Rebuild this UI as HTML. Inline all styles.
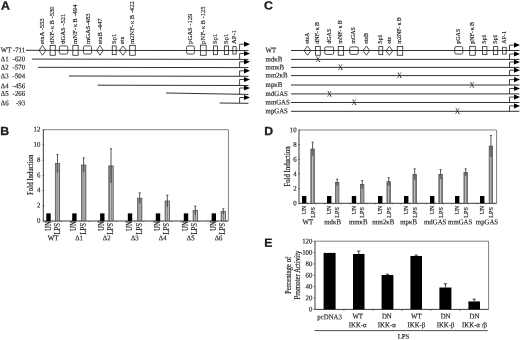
<!DOCTYPE html>
<html><head><meta charset="utf-8"><title>Figure</title>
<style>
html,body{margin:0;padding:0;background:#fff;}
body{width:520px;height:340px;overflow:hidden;font-family:"Liberation Serif",serif;}
svg{display:block;filter:blur(0.35px);}
</style></head><body>
<svg width="520" height="340" viewBox="0 0 520 340">
<defs>
<pattern id="dots" x="0.2" y="0" width="1.85" height="2" patternUnits="userSpaceOnUse">
<rect width="1.85" height="2" fill="#767676"/><rect x="0.8" y="0.45" width="1.1" height="1.1" fill="#fff"/>
</pattern>
</defs>
<rect width="520" height="340" fill="#fff"/>
<text transform="translate(1.0 9.5) rotate(0.05) scale(1.04 1)" font-size="11.8" text-anchor="start" font-family="Liberation Sans, serif" font-weight="bold" fill="#1a1a1a" stroke="#1a1a1a" stroke-width="0.3">A</text>
<text transform="translate(0.2 135.0) rotate(0.05) scale(1.04 1)" font-size="11.8" text-anchor="start" font-family="Liberation Sans, serif" font-weight="bold" fill="#1a1a1a" stroke="#1a1a1a" stroke-width="0.3">B</text>
<text transform="translate(264 9.5) rotate(0.05) scale(1.04 1)" font-size="11.8" text-anchor="start" font-family="Liberation Sans, serif" font-weight="bold" fill="#1a1a1a" stroke="#1a1a1a" stroke-width="0.3">C</text>
<text transform="translate(264.3 135.0) rotate(0.05) scale(1.04 1)" font-size="11.8" text-anchor="start" font-family="Liberation Sans, serif" font-weight="bold" fill="#1a1a1a" stroke="#1a1a1a" stroke-width="0.3">D</text>
<text transform="translate(264.3 246.8) rotate(0.05) scale(1.04 1)" font-size="11.8" text-anchor="start" font-family="Liberation Sans, serif" font-weight="bold" fill="#1a1a1a" stroke="#1a1a1a" stroke-width="0.3">E</text>
<text transform="translate(0.8 52.2) rotate(0.05) scale(0.945 1)" font-size="7.196" text-anchor="start" font-family="Liberation Serif, serif" fill="#1a1a1a" stroke="#1a1a1a" stroke-width="0.16">WT</text>
<text transform="translate(25.1 52.2) rotate(0.05) scale(0.945 1)" font-size="7.196" text-anchor="end" font-family="Liberation Serif, serif" fill="#1a1a1a" stroke="#1a1a1a" stroke-width="0.16">-711</text>
<line x1="26" y1="50.3" x2="248.4" y2="50.6" stroke="#1a1a1a" stroke-width="0.9"/>
<text transform="translate(0.8 61.2) rotate(0.05) scale(0.945 1)" font-size="7.196" text-anchor="start" font-family="Liberation Serif, serif" fill="#1a1a1a" stroke="#1a1a1a" stroke-width="0.16">Δ1</text>
<text transform="translate(25.1 61.2) rotate(0.05) scale(0.945 1)" font-size="7.196" text-anchor="end" font-family="Liberation Serif, serif" fill="#1a1a1a" stroke="#1a1a1a" stroke-width="0.16">-620</text>
<line x1="32" y1="59.1" x2="248.4" y2="59.4" stroke="#1a1a1a" stroke-width="0.9"/>
<text transform="translate(0.8 69.60000000000001) rotate(0.05) scale(0.945 1)" font-size="7.196" text-anchor="start" font-family="Liberation Serif, serif" fill="#1a1a1a" stroke="#1a1a1a" stroke-width="0.16">Δ2</text>
<text transform="translate(25.1 69.60000000000001) rotate(0.05) scale(0.945 1)" font-size="7.196" text-anchor="end" font-family="Liberation Serif, serif" fill="#1a1a1a" stroke="#1a1a1a" stroke-width="0.16">-570</text>
<line x1="38" y1="67.3" x2="248.4" y2="67.6" stroke="#1a1a1a" stroke-width="0.9"/>
<text transform="translate(0.8 78.2) rotate(0.05) scale(0.945 1)" font-size="7.196" text-anchor="start" font-family="Liberation Serif, serif" fill="#1a1a1a" stroke="#1a1a1a" stroke-width="0.16">Δ3</text>
<text transform="translate(25.1 78.2) rotate(0.05) scale(0.945 1)" font-size="7.196" text-anchor="end" font-family="Liberation Serif, serif" fill="#1a1a1a" stroke="#1a1a1a" stroke-width="0.16">-504</text>
<line x1="69" y1="76.0" x2="248.4" y2="76.3" stroke="#1a1a1a" stroke-width="0.9"/>
<text transform="translate(0.8 88.2) rotate(0.05) scale(0.945 1)" font-size="7.196" text-anchor="start" font-family="Liberation Serif, serif" fill="#1a1a1a" stroke="#1a1a1a" stroke-width="0.16">Δ4</text>
<text transform="translate(25.1 88.2) rotate(0.05) scale(0.945 1)" font-size="7.196" text-anchor="end" font-family="Liberation Serif, serif" fill="#1a1a1a" stroke="#1a1a1a" stroke-width="0.16">-456</text>
<line x1="97.6" y1="85.2" x2="248.4" y2="85.5" stroke="#1a1a1a" stroke-width="0.9"/>
<text transform="translate(0.8 95.8) rotate(0.05) scale(0.945 1)" font-size="7.196" text-anchor="start" font-family="Liberation Serif, serif" fill="#1a1a1a" stroke="#1a1a1a" stroke-width="0.16">Δ5</text>
<text transform="translate(25.1 95.8) rotate(0.05) scale(0.945 1)" font-size="7.196" text-anchor="end" font-family="Liberation Serif, serif" fill="#1a1a1a" stroke="#1a1a1a" stroke-width="0.16">-266</text>
<line x1="166" y1="93.0" x2="248.4" y2="94.4" stroke="#1a1a1a" stroke-width="0.9"/>
<text transform="translate(0.8 105.2) rotate(0.05) scale(0.945 1)" font-size="7.196" text-anchor="start" font-family="Liberation Serif, serif" fill="#1a1a1a" stroke="#1a1a1a" stroke-width="0.16">Δ6</text>
<text transform="translate(25.1 105.2) rotate(0.05) scale(0.945 1)" font-size="7.196" text-anchor="end" font-family="Liberation Serif, serif" fill="#1a1a1a" stroke="#1a1a1a" stroke-width="0.16">-93</text>
<line x1="219.6" y1="103.0" x2="248.4" y2="103.3" stroke="#1a1a1a" stroke-width="0.9"/>
<polyline points="239.6,50.3 239.6,44.2 245,44.2" fill="none" stroke="#1a1a1a" stroke-width="0.8"/>
<polygon points="244,41.6 250,44.2 244,46.800000000000004" fill="#000"/>
<polyline points="239.6,59.1 239.6,53.5 245,53.5" fill="none" stroke="#1a1a1a" stroke-width="0.8"/>
<polygon points="244,50.9 250,53.5 244,56.1" fill="#000"/>
<polyline points="239.6,67.3 239.6,61.8 245,61.8" fill="none" stroke="#1a1a1a" stroke-width="0.8"/>
<polygon points="244,59.199999999999996 250,61.8 244,64.39999999999999" fill="#000"/>
<polyline points="239.6,76.0 239.6,70.8 245,70.8" fill="none" stroke="#1a1a1a" stroke-width="0.8"/>
<polygon points="244,68.2 250,70.8 244,73.39999999999999" fill="#000"/>
<polyline points="239.6,85.2 239.6,79.5 245,79.5" fill="none" stroke="#1a1a1a" stroke-width="0.8"/>
<polygon points="244,76.9 250,79.5 244,82.1" fill="#000"/>
<polyline points="239.6,94.4 239.6,88 245,88" fill="none" stroke="#1a1a1a" stroke-width="0.8"/>
<polygon points="244,85.4 250,88 244,90.6" fill="#000"/>
<polyline points="239.6,103.0 239.6,97.5 245,97.5" fill="none" stroke="#1a1a1a" stroke-width="0.8"/>
<polygon points="244,94.9 250,97.5 244,100.1" fill="#000"/>
<polygon points="39.1,50.3 42.5,45.35 45.9,50.3 42.5,55.25" fill="none" stroke="#262626" stroke-width="0.8"/>
<rect x="50.1" y="45.35" width="5.15" height="9.9" rx="0" fill="none" stroke="#262626" stroke-width="0.8"/>
<rect x="59.35" y="45.95" width="8.4" height="8.1" rx="1.3" fill="none" stroke="#262626" stroke-width="0.8"/>
<rect x="72.85" y="45.35" width="5.3" height="9.9" rx="0" fill="none" stroke="#262626" stroke-width="0.8"/>
<rect x="83.45" y="45.95" width="8.1" height="8.1" rx="1.3" fill="none" stroke="#262626" stroke-width="0.8"/>
<polygon points="96.6,50.3 99.875,45.35 103.15,50.3 99.875,55.25" fill="none" stroke="#262626" stroke-width="0.8"/>
<rect x="112.25" y="45.95" width="3.9" height="8.7" rx="0" fill="none" stroke="#262626" stroke-width="0.8"/>
<polygon points="119.35,50.6 122.95,45.95 126.55000000000001,50.6 122.95,55.25" fill="none" stroke="#262626" stroke-width="0.8"/>
<rect x="129.75" y="45.35" width="5.5" height="9.9" rx="0" fill="none" stroke="#262626" stroke-width="0.8"/>
<rect x="186.6" y="45.95" width="7.8" height="8.1" rx="1.3" fill="none" stroke="#262626" stroke-width="0.8"/>
<rect x="200.35" y="45.1" width="5.8" height="10.15" rx="0" fill="none" stroke="#262626" stroke-width="0.8"/>
<rect x="213.45" y="45.95" width="3.95" height="8.7" rx="0" fill="none" stroke="#262626" stroke-width="0.8"/>
<rect x="224.35" y="45.95" width="4.05" height="8.7" rx="0" fill="none" stroke="#262626" stroke-width="0.8"/>
<rect x="232.85" y="46.6" width="3.3" height="7.45" rx="0" fill="none" stroke="#262626" stroke-width="0.8"/>
<text transform="translate(44.48 43.9) rotate(-90) scale(0.945 1)" font-size="6.984" text-anchor="start" font-family="Liberation Serif, serif" fill="#1a1a1a" stroke="#1a1a1a" stroke-width="0.16">etsA -553</text>
<text transform="translate(54.48 43.9) rotate(-90) scale(0.945 1)" font-size="6.984" text-anchor="start" font-family="Liberation Serif, serif" fill="#1a1a1a" stroke="#1a1a1a" stroke-width="0.16">dNF-<tspan dx="0.9">κ</tspan><tspan dx="1.4">B</tspan> -530</text>
<text transform="translate(65.18 43.9) rotate(-90) scale(0.945 1)" font-size="6.984" text-anchor="start" font-family="Liberation Serif, serif" fill="#1a1a1a" stroke="#1a1a1a" stroke-width="0.16">dGAS -521</text>
<text transform="translate(77.18 43.9) rotate(-90) scale(0.945 1)" font-size="6.984" text-anchor="start" font-family="Liberation Serif, serif" fill="#1a1a1a" stroke="#1a1a1a" stroke-width="0.16">mNF-<tspan dx="0.9">κ</tspan><tspan dx="1.4">B</tspan> -494</text>
<text transform="translate(89.98 43.9) rotate(-90) scale(0.945 1)" font-size="6.984" text-anchor="start" font-family="Liberation Serif, serif" fill="#1a1a1a" stroke="#1a1a1a" stroke-width="0.16">mGAS-483</text>
<text transform="translate(101.58 43.9) rotate(-90) scale(0.945 1)" font-size="6.984" text-anchor="start" font-family="Liberation Serif, serif" fill="#1a1a1a" stroke="#1a1a1a" stroke-width="0.16">etsB -447</text>
<text transform="translate(115.68 43.9) rotate(-90) scale(0.945 1)" font-size="6.984" text-anchor="start" font-family="Liberation Serif, serif" fill="#1a1a1a" stroke="#1a1a1a" stroke-width="0.16">Sp1</text>
<text transform="translate(124.38 43.9) rotate(-90) scale(0.945 1)" font-size="6.984" text-anchor="start" font-family="Liberation Serif, serif" fill="#1a1a1a" stroke="#1a1a1a" stroke-width="0.16">ets</text>
<text transform="translate(133.98 43.9) rotate(-90) scale(0.945 1)" font-size="6.984" text-anchor="start" font-family="Liberation Serif, serif" fill="#1a1a1a" stroke="#1a1a1a" stroke-width="0.16">m2NF-<tspan dx="0.9">κ</tspan><tspan dx="1.4">B</tspan> -422</text>
<text transform="translate(192.08 43.9) rotate(-90) scale(0.945 1)" font-size="6.984" text-anchor="start" font-family="Liberation Serif, serif" fill="#1a1a1a" stroke="#1a1a1a" stroke-width="0.16">pGAS -129</text>
<text transform="translate(204.78 43.9) rotate(-90) scale(0.945 1)" font-size="6.984" text-anchor="start" font-family="Liberation Serif, serif" fill="#1a1a1a" stroke="#1a1a1a" stroke-width="0.16">pNF-<tspan dx="0.9">κ</tspan><tspan dx="1.4">B</tspan> -125</text>
<text transform="translate(217.08 43.9) rotate(-90) scale(0.945 1)" font-size="6.984" text-anchor="start" font-family="Liberation Serif, serif" fill="#1a1a1a" stroke="#1a1a1a" stroke-width="0.16">Sp1</text>
<text transform="translate(227.88 43.9) rotate(-90) scale(0.945 1)" font-size="6.984" text-anchor="start" font-family="Liberation Serif, serif" fill="#1a1a1a" stroke="#1a1a1a" stroke-width="0.16">Sp1</text>
<text transform="translate(236.18 43.9) rotate(-90) scale(0.945 1)" font-size="6.984" text-anchor="start" font-family="Liberation Serif, serif" fill="#1a1a1a" stroke="#1a1a1a" stroke-width="0.16">AP-1</text>
<text transform="translate(265.6 52.5) rotate(0.05) scale(0.945 1)" font-size="7.196" text-anchor="start" font-family="Liberation Serif, serif" fill="#1a1a1a" stroke="#1a1a1a" stroke-width="0.16">WT</text>
<line x1="291" y1="50.5" x2="519.4" y2="50.5" stroke="#1a1a1a" stroke-width="0.9"/>
<polyline points="509.5,50.5 509.5,45.1 515,45.1" fill="none" stroke="#1a1a1a" stroke-width="0.8"/>
<polygon points="514,42.5 520,45.1 514,47.7" fill="#000"/>
<text transform="translate(265.6 61.4) rotate(0.05) scale(0.945 1)" font-size="7.196" text-anchor="start" font-family="Liberation Serif, serif" fill="#1a1a1a" stroke="#1a1a1a" stroke-width="0.16">mdκB</text>
<line x1="291" y1="59.4" x2="519.4" y2="59.4" stroke="#1a1a1a" stroke-width="0.9"/>
<polyline points="509.5,59.4 509.5,54.0 515,54.0" fill="none" stroke="#1a1a1a" stroke-width="0.8"/>
<polygon points="514,51.4 520,54.0 514,56.6" fill="#000"/>
<text transform="translate(265.6 69.4) rotate(0.05) scale(0.945 1)" font-size="7.196" text-anchor="start" font-family="Liberation Serif, serif" fill="#1a1a1a" stroke="#1a1a1a" stroke-width="0.16">mmκB</text>
<line x1="291" y1="67.4" x2="519.4" y2="67.4" stroke="#1a1a1a" stroke-width="0.9"/>
<polyline points="509.5,67.4 509.5,62.0 515,62.0" fill="none" stroke="#1a1a1a" stroke-width="0.8"/>
<polygon points="514,59.4 520,62.0 514,64.6" fill="#000"/>
<text transform="translate(265.6 77.6) rotate(0.05) scale(0.945 1)" font-size="7.196" text-anchor="start" font-family="Liberation Serif, serif" fill="#1a1a1a" stroke="#1a1a1a" stroke-width="0.16">mm2κB</text>
<line x1="291" y1="75.6" x2="519.4" y2="75.6" stroke="#1a1a1a" stroke-width="0.9"/>
<polyline points="509.5,75.6 509.5,70.2 515,70.2" fill="none" stroke="#1a1a1a" stroke-width="0.8"/>
<polygon points="514,67.60000000000001 520,70.2 514,72.8" fill="#000"/>
<text transform="translate(265.6 87.0) rotate(0.05) scale(0.945 1)" font-size="7.196" text-anchor="start" font-family="Liberation Serif, serif" fill="#1a1a1a" stroke="#1a1a1a" stroke-width="0.16">mpκB</text>
<line x1="291" y1="85.0" x2="519.4" y2="85.0" stroke="#1a1a1a" stroke-width="0.9"/>
<polyline points="509.5,85.0 509.5,79.6 515,79.6" fill="none" stroke="#1a1a1a" stroke-width="0.8"/>
<polygon points="514,77.0 520,79.6 514,82.19999999999999" fill="#000"/>
<text transform="translate(265.6 95.9) rotate(0.05) scale(0.945 1)" font-size="7.196" text-anchor="start" font-family="Liberation Serif, serif" fill="#1a1a1a" stroke="#1a1a1a" stroke-width="0.16">mdGAS</text>
<line x1="291" y1="93.9" x2="519.4" y2="93.9" stroke="#1a1a1a" stroke-width="0.9"/>
<polyline points="509.5,93.9 509.5,88.5 515,88.5" fill="none" stroke="#1a1a1a" stroke-width="0.8"/>
<polygon points="514,85.9 520,88.5 514,91.1" fill="#000"/>
<text transform="translate(265.6 104.5) rotate(0.05) scale(0.945 1)" font-size="7.196" text-anchor="start" font-family="Liberation Serif, serif" fill="#1a1a1a" stroke="#1a1a1a" stroke-width="0.16">mmGAS</text>
<line x1="291" y1="102.5" x2="519.4" y2="102.5" stroke="#1a1a1a" stroke-width="0.9"/>
<polyline points="509.5,102.5 509.5,97.1 515,97.1" fill="none" stroke="#1a1a1a" stroke-width="0.8"/>
<polygon points="514,94.5 520,97.1 514,99.69999999999999" fill="#000"/>
<text transform="translate(265.6 113.3) rotate(0.05) scale(0.945 1)" font-size="7.196" text-anchor="start" font-family="Liberation Serif, serif" fill="#1a1a1a" stroke="#1a1a1a" stroke-width="0.16">mpGAS</text>
<line x1="291" y1="111.3" x2="519.4" y2="111.3" stroke="#1a1a1a" stroke-width="0.9"/>
<polyline points="509.5,111.3 509.5,105.9 515,105.9" fill="none" stroke="#1a1a1a" stroke-width="0.8"/>
<polygon points="514,103.30000000000001 520,105.9 514,108.5" fill="#000"/>
<polygon points="304.1,50.6 307.5,45.95 310.9,50.6 307.5,55.25" fill="none" stroke="#262626" stroke-width="0.8"/>
<rect x="315.6" y="46.35" width="4.65" height="8.9" rx="0" fill="none" stroke="#262626" stroke-width="0.8"/>
<rect x="324.75" y="46.85" width="8.9" height="7.55" rx="1.3" fill="none" stroke="#262626" stroke-width="0.8"/>
<rect x="338.25" y="46.35" width="5.4" height="8.9" rx="0" fill="none" stroke="#262626" stroke-width="0.8"/>
<rect x="349.75" y="46.85" width="8.5" height="7.55" rx="1.3" fill="none" stroke="#262626" stroke-width="0.8"/>
<polygon points="363.1,50.6 366.375,45.95 369.65,50.6 366.375,55.25" fill="none" stroke="#262626" stroke-width="0.8"/>
<rect x="378.85" y="46.6" width="3.9" height="8.05" rx="0" fill="none" stroke="#262626" stroke-width="0.8"/>
<polygon points="385.95000000000005,50.8 389.35,46.35 392.75,50.8 389.35,55.25" fill="none" stroke="#262626" stroke-width="0.8"/>
<rect x="397.25" y="46.35" width="5.5" height="8.9" rx="0" fill="none" stroke="#262626" stroke-width="0.8"/>
<rect x="454.75" y="46.6" width="8.0" height="7.45" rx="1.3" fill="none" stroke="#262626" stroke-width="0.8"/>
<rect x="469.75" y="46.35" width="5.5" height="8.9" rx="0" fill="none" stroke="#262626" stroke-width="0.8"/>
<rect x="482.6" y="46.6" width="4.3" height="8.05" rx="0" fill="none" stroke="#262626" stroke-width="0.8"/>
<rect x="493.45" y="46.6" width="4.3" height="8.05" rx="0" fill="none" stroke="#262626" stroke-width="0.8"/>
<rect x="502.6" y="47.25" width="3.55" height="6.8" rx="0" fill="none" stroke="#262626" stroke-width="0.8"/>
<text transform="translate(309.3 43.7) rotate(-90) scale(0.945 1)" font-size="6.349" text-anchor="start" font-family="Liberation Serif, serif" fill="#1a1a1a" stroke="#1a1a1a" stroke-width="0.16">etsA</text>
<text transform="translate(319.4 43.7) rotate(-90) scale(0.945 1)" font-size="6.349" text-anchor="start" font-family="Liberation Serif, serif" fill="#1a1a1a" stroke="#1a1a1a" stroke-width="0.16">dNF-<tspan dx="0.9">κ</tspan><tspan dx="1.4">B</tspan></text>
<text transform="translate(330.8 43.7) rotate(-90) scale(0.945 1)" font-size="6.349" text-anchor="start" font-family="Liberation Serif, serif" fill="#1a1a1a" stroke="#1a1a1a" stroke-width="0.16">dGAS</text>
<text transform="translate(342.2 43.7) rotate(-90) scale(0.945 1)" font-size="6.349" text-anchor="start" font-family="Liberation Serif, serif" fill="#1a1a1a" stroke="#1a1a1a" stroke-width="0.16">mNF-<tspan dx="0.9">κ</tspan><tspan dx="1.4">B</tspan></text>
<text transform="translate(355.4 43.7) rotate(-90) scale(0.945 1)" font-size="6.349" text-anchor="start" font-family="Liberation Serif, serif" fill="#1a1a1a" stroke="#1a1a1a" stroke-width="0.16">mGAS</text>
<text transform="translate(367.6 43.7) rotate(-90) scale(0.945 1)" font-size="6.349" text-anchor="start" font-family="Liberation Serif, serif" fill="#1a1a1a" stroke="#1a1a1a" stroke-width="0.16">etsB</text>
<text transform="translate(382.0 43.7) rotate(-90) scale(0.945 1)" font-size="6.349" text-anchor="start" font-family="Liberation Serif, serif" fill="#1a1a1a" stroke="#1a1a1a" stroke-width="0.16">Sp1</text>
<text transform="translate(391.2 43.7) rotate(-90) scale(0.945 1)" font-size="6.349" text-anchor="start" font-family="Liberation Serif, serif" fill="#1a1a1a" stroke="#1a1a1a" stroke-width="0.16">ets</text>
<text transform="translate(401.4 43.7) rotate(-90) scale(0.945 1)" font-size="6.349" text-anchor="start" font-family="Liberation Serif, serif" fill="#1a1a1a" stroke="#1a1a1a" stroke-width="0.16">m2NF-<tspan dx="0.9">κ</tspan><tspan dx="1.4">B</tspan></text>
<text transform="translate(460.4 43.7) rotate(-90) scale(0.945 1)" font-size="6.349" text-anchor="start" font-family="Liberation Serif, serif" fill="#1a1a1a" stroke="#1a1a1a" stroke-width="0.16">pGAS</text>
<text transform="translate(473.8 43.7) rotate(-90) scale(0.945 1)" font-size="6.349" text-anchor="start" font-family="Liberation Serif, serif" fill="#1a1a1a" stroke="#1a1a1a" stroke-width="0.16">pNF-<tspan dx="0.9">κ</tspan><tspan dx="1.4">B</tspan></text>
<text transform="translate(486.4 43.7) rotate(-90) scale(0.945 1)" font-size="6.349" text-anchor="start" font-family="Liberation Serif, serif" fill="#1a1a1a" stroke="#1a1a1a" stroke-width="0.16">Sp1</text>
<text transform="translate(497.2 43.7) rotate(-90) scale(0.945 1)" font-size="6.349" text-anchor="start" font-family="Liberation Serif, serif" fill="#1a1a1a" stroke="#1a1a1a" stroke-width="0.16">Sp1</text>
<text transform="translate(506.2 43.7) rotate(-90) scale(0.945 1)" font-size="6.349" text-anchor="start" font-family="Liberation Serif, serif" fill="#1a1a1a" stroke="#1a1a1a" stroke-width="0.16">AP-1</text>
<text transform="translate(318.1 61.9) rotate(0.05) scale(0.945 1)" font-size="8.042" text-anchor="middle" font-family="Liberation Serif, serif" fill="#222" stroke="#222" stroke-width="0">X</text>
<text transform="translate(340.5 69.9) rotate(0.05) scale(0.945 1)" font-size="8.042" text-anchor="middle" font-family="Liberation Serif, serif" fill="#222" stroke="#222" stroke-width="0">X</text>
<text transform="translate(399.6 78.1) rotate(0.05) scale(0.945 1)" font-size="8.042" text-anchor="middle" font-family="Liberation Serif, serif" fill="#222" stroke="#222" stroke-width="0">X</text>
<text transform="translate(472 87.5) rotate(0.05) scale(0.945 1)" font-size="8.042" text-anchor="middle" font-family="Liberation Serif, serif" fill="#222" stroke="#222" stroke-width="0">X</text>
<text transform="translate(329.6 96.4) rotate(0.05) scale(0.945 1)" font-size="8.042" text-anchor="middle" font-family="Liberation Serif, serif" fill="#222" stroke="#222" stroke-width="0">X</text>
<text transform="translate(354.2 105.0) rotate(0.05) scale(0.945 1)" font-size="8.042" text-anchor="middle" font-family="Liberation Serif, serif" fill="#222" stroke="#222" stroke-width="0">X</text>
<text transform="translate(457.4 113.8) rotate(0.05) scale(0.945 1)" font-size="8.042" text-anchor="middle" font-family="Liberation Serif, serif" fill="#222" stroke="#222" stroke-width="0">X</text>
<polyline points="43.3,129.7 228.4,129.7 228.4,221" fill="none" stroke="#5a5a5a" stroke-width="0.75"/>
<polyline points="43.3,129.7 43.3,221 228.4,221" fill="none" stroke="#333" stroke-width="0.95"/>
<text transform="translate(40.3 222.8) rotate(0.05) scale(0.945 1)" font-size="7.196" text-anchor="end" font-family="Liberation Serif, serif" fill="#1a1a1a" stroke="#1a1a1a" stroke-width="0.16">0</text>
<line x1="42.699999999999996" y1="221.0" x2="44.3" y2="221.0" stroke="#3a3a3a" stroke-width="0.7"/>
<text transform="translate(40.3 207.58) rotate(0.05) scale(0.945 1)" font-size="7.196" text-anchor="end" font-family="Liberation Serif, serif" fill="#1a1a1a" stroke="#1a1a1a" stroke-width="0.16">2</text>
<line x1="42.699999999999996" y1="205.78333333333333" x2="44.3" y2="205.78333333333333" stroke="#3a3a3a" stroke-width="0.7"/>
<text transform="translate(40.3 192.37) rotate(0.05) scale(0.945 1)" font-size="7.196" text-anchor="end" font-family="Liberation Serif, serif" fill="#1a1a1a" stroke="#1a1a1a" stroke-width="0.16">4</text>
<line x1="42.699999999999996" y1="190.56666666666666" x2="44.3" y2="190.56666666666666" stroke="#3a3a3a" stroke-width="0.7"/>
<text transform="translate(40.3 177.15) rotate(0.05) scale(0.945 1)" font-size="7.196" text-anchor="end" font-family="Liberation Serif, serif" fill="#1a1a1a" stroke="#1a1a1a" stroke-width="0.16">6</text>
<line x1="42.699999999999996" y1="175.35" x2="44.3" y2="175.35" stroke="#3a3a3a" stroke-width="0.7"/>
<text transform="translate(40.3 161.93) rotate(0.05) scale(0.945 1)" font-size="7.196" text-anchor="end" font-family="Liberation Serif, serif" fill="#1a1a1a" stroke="#1a1a1a" stroke-width="0.16">8</text>
<line x1="42.699999999999996" y1="160.13333333333333" x2="44.3" y2="160.13333333333333" stroke="#3a3a3a" stroke-width="0.7"/>
<text transform="translate(40.3 146.72) rotate(0.05) scale(0.945 1)" font-size="7.196" text-anchor="end" font-family="Liberation Serif, serif" fill="#1a1a1a" stroke="#1a1a1a" stroke-width="0.16">10</text>
<line x1="42.699999999999996" y1="144.91666666666666" x2="44.3" y2="144.91666666666666" stroke="#3a3a3a" stroke-width="0.7"/>
<text transform="translate(40.3 131.5) rotate(0.05) scale(0.945 1)" font-size="7.196" text-anchor="end" font-family="Liberation Serif, serif" fill="#1a1a1a" stroke="#1a1a1a" stroke-width="0.16">12</text>
<line x1="42.699999999999996" y1="129.7" x2="44.3" y2="129.7" stroke="#3a3a3a" stroke-width="0.7"/>
<line x1="43.3" y1="221" x2="43.3" y2="222.2" stroke="#3a3a3a" stroke-width="0.6"/>
<line x1="52.45" y1="221" x2="52.45" y2="222.2" stroke="#3a3a3a" stroke-width="0.6"/>
<line x1="61.59" y1="221" x2="61.59" y2="222.2" stroke="#3a3a3a" stroke-width="0.6"/>
<line x1="70.74" y1="221" x2="70.74" y2="222.2" stroke="#3a3a3a" stroke-width="0.6"/>
<line x1="79.89" y1="221" x2="79.89" y2="222.2" stroke="#3a3a3a" stroke-width="0.6"/>
<line x1="89.03" y1="221" x2="89.03" y2="222.2" stroke="#3a3a3a" stroke-width="0.6"/>
<line x1="98.18" y1="221" x2="98.18" y2="222.2" stroke="#3a3a3a" stroke-width="0.6"/>
<line x1="107.33" y1="221" x2="107.33" y2="222.2" stroke="#3a3a3a" stroke-width="0.6"/>
<line x1="116.48" y1="221" x2="116.48" y2="222.2" stroke="#3a3a3a" stroke-width="0.6"/>
<line x1="125.62" y1="221" x2="125.62" y2="222.2" stroke="#3a3a3a" stroke-width="0.6"/>
<line x1="134.77" y1="221" x2="134.77" y2="222.2" stroke="#3a3a3a" stroke-width="0.6"/>
<line x1="143.92" y1="221" x2="143.92" y2="222.2" stroke="#3a3a3a" stroke-width="0.6"/>
<line x1="153.06" y1="221" x2="153.06" y2="222.2" stroke="#3a3a3a" stroke-width="0.6"/>
<line x1="162.21" y1="221" x2="162.21" y2="222.2" stroke="#3a3a3a" stroke-width="0.6"/>
<line x1="171.36" y1="221" x2="171.36" y2="222.2" stroke="#3a3a3a" stroke-width="0.6"/>
<line x1="180.5" y1="221" x2="180.5" y2="222.2" stroke="#3a3a3a" stroke-width="0.6"/>
<line x1="189.65" y1="221" x2="189.65" y2="222.2" stroke="#3a3a3a" stroke-width="0.6"/>
<line x1="198.8" y1="221" x2="198.8" y2="222.2" stroke="#3a3a3a" stroke-width="0.6"/>
<line x1="207.95" y1="221" x2="207.95" y2="222.2" stroke="#3a3a3a" stroke-width="0.6"/>
<line x1="217.09" y1="221" x2="217.09" y2="222.2" stroke="#3a3a3a" stroke-width="0.6"/>
<line x1="226.24" y1="221" x2="226.24" y2="222.2" stroke="#3a3a3a" stroke-width="0.6"/>
<text transform="translate(32.8 174.8) rotate(-90) scale(0.945 1)" font-size="7.196" text-anchor="middle" font-family="Liberation Serif, serif" fill="#1a1a1a" stroke="#1a1a1a" stroke-width="0.16">Fold Induction</text>
<rect x="46.3" y="213.39" width="4.4" height="7.61" fill="#000"/>
<line x1="57.5" y1="154.43" x2="57.5" y2="163.56" stroke="#444" stroke-width="0.9"/>
<line x1="56.4" y1="154.43" x2="58.6" y2="154.43" stroke="#444" stroke-width="0.9"/>
<g transform="translate(55.3 221)"><rect x="0" y="-57.44" width="4.4" height="57.44" fill="url(#dots)"/><rect x="0" y="-57.44" width="4.4" height="57.44" fill="none" stroke="#444" stroke-width="0.7"/></g>
<line x1="57.5" y1="163.56" x2="57.5" y2="172.69" stroke="#333" stroke-width="1.6" opacity="0.6"/>
<text transform="translate(50.54 230.9) rotate(-90) scale(0.945 1)" font-size="7.196" text-anchor="start" font-family="Liberation Serif, serif" fill="#1a1a1a" stroke="#1a1a1a" stroke-width="0.16">UN</text>
<text transform="translate(59.54 234.6) rotate(-90) scale(0.945 1)" font-size="7.196" text-anchor="start" font-family="Liberation Serif, serif" fill="#1a1a1a" stroke="#1a1a1a" stroke-width="0.16">LPS</text>
<text transform="translate(53.0 240.3) rotate(0.05) scale(0.945 1)" font-size="7.196" text-anchor="middle" font-family="Liberation Serif, serif" fill="#1a1a1a" stroke="#1a1a1a" stroke-width="0.16">WT</text>
<rect x="72.2" y="213.39" width="4.4" height="7.61" fill="#000"/>
<line x1="83.65" y1="157.85" x2="83.65" y2="165.08" stroke="#444" stroke-width="0.9"/>
<line x1="82.55" y1="157.85" x2="84.75" y2="157.85" stroke="#444" stroke-width="0.9"/>
<g transform="translate(81.4 221)"><rect x="0" y="-55.92" width="4.5" height="55.92" fill="url(#dots)"/><rect x="0" y="-55.92" width="4.5" height="55.92" fill="none" stroke="#444" stroke-width="0.7"/></g>
<line x1="83.65" y1="165.08" x2="83.65" y2="172.31" stroke="#333" stroke-width="1.6" opacity="0.6"/>
<text transform="translate(76.44 230.9) rotate(-90) scale(0.945 1)" font-size="7.196" text-anchor="start" font-family="Liberation Serif, serif" fill="#1a1a1a" stroke="#1a1a1a" stroke-width="0.16">UN</text>
<text transform="translate(85.69 234.6) rotate(-90) scale(0.945 1)" font-size="7.196" text-anchor="start" font-family="Liberation Serif, serif" fill="#1a1a1a" stroke="#1a1a1a" stroke-width="0.16">LPS</text>
<text transform="translate(79.05 240.3) rotate(0.05) scale(0.945 1)" font-size="7.196" text-anchor="middle" font-family="Liberation Serif, serif" fill="#1a1a1a" stroke="#1a1a1a" stroke-width="0.16">Δ1</text>
<rect x="100.1" y="213.39" width="4.4" height="7.61" fill="#000"/>
<line x1="111.0" y1="148.72" x2="111.0" y2="165.84" stroke="#444" stroke-width="0.9"/>
<line x1="109.9" y1="148.72" x2="112.1" y2="148.72" stroke="#444" stroke-width="0.9"/>
<g transform="translate(108.8 221)"><rect x="0" y="-55.16" width="4.4" height="55.16" fill="url(#dots)"/><rect x="0" y="-55.16" width="4.4" height="55.16" fill="none" stroke="#444" stroke-width="0.7"/></g>
<line x1="111.0" y1="165.84" x2="111.0" y2="182.96" stroke="#333" stroke-width="1.6" opacity="0.6"/>
<text transform="translate(104.34 230.9) rotate(-90) scale(0.945 1)" font-size="7.196" text-anchor="start" font-family="Liberation Serif, serif" fill="#1a1a1a" stroke="#1a1a1a" stroke-width="0.16">UN</text>
<text transform="translate(113.04 234.6) rotate(-90) scale(0.945 1)" font-size="7.196" text-anchor="start" font-family="Liberation Serif, serif" fill="#1a1a1a" stroke="#1a1a1a" stroke-width="0.16">LPS</text>
<text transform="translate(106.65 240.3) rotate(0.05) scale(0.945 1)" font-size="7.196" text-anchor="middle" font-family="Liberation Serif, serif" fill="#1a1a1a" stroke="#1a1a1a" stroke-width="0.16">Δ2</text>
<rect x="127.8" y="213.39" width="4.4" height="7.61" fill="#000"/>
<line x1="139.7" y1="192.85" x2="139.7" y2="198.18" stroke="#444" stroke-width="0.9"/>
<line x1="138.6" y1="192.85" x2="140.8" y2="192.85" stroke="#444" stroke-width="0.9"/>
<g transform="translate(137.5 221)"><rect x="0" y="-22.82" width="4.4" height="22.82" fill="url(#dots)"/><rect x="0" y="-22.82" width="4.4" height="22.82" fill="none" stroke="#444" stroke-width="0.7"/></g>
<line x1="139.7" y1="198.18" x2="139.7" y2="203.51" stroke="#333" stroke-width="1.6" opacity="0.6"/>
<text transform="translate(132.04 230.9) rotate(-90) scale(0.945 1)" font-size="7.196" text-anchor="start" font-family="Liberation Serif, serif" fill="#1a1a1a" stroke="#1a1a1a" stroke-width="0.16">UN</text>
<text transform="translate(141.74 234.6) rotate(-90) scale(0.945 1)" font-size="7.196" text-anchor="start" font-family="Liberation Serif, serif" fill="#1a1a1a" stroke="#1a1a1a" stroke-width="0.16">LPS</text>
<text transform="translate(134.85 240.3) rotate(0.05) scale(0.945 1)" font-size="7.196" text-anchor="middle" font-family="Liberation Serif, serif" fill="#1a1a1a" stroke="#1a1a1a" stroke-width="0.16">Δ3</text>
<rect x="155.8" y="213.39" width="4.4" height="7.61" fill="#000"/>
<line x1="167.3" y1="195.13" x2="167.3" y2="200.99" stroke="#444" stroke-width="0.9"/>
<line x1="166.2" y1="195.13" x2="168.4" y2="195.13" stroke="#444" stroke-width="0.9"/>
<g transform="translate(165.1 221)"><rect x="0" y="-20.01" width="4.4" height="20.01" fill="url(#dots)"/><rect x="0" y="-20.01" width="4.4" height="20.01" fill="none" stroke="#444" stroke-width="0.7"/></g>
<line x1="167.3" y1="200.99" x2="167.3" y2="206.85" stroke="#333" stroke-width="1.6" opacity="0.6"/>
<text transform="translate(160.04 230.9) rotate(-90) scale(0.945 1)" font-size="7.196" text-anchor="start" font-family="Liberation Serif, serif" fill="#1a1a1a" stroke="#1a1a1a" stroke-width="0.16">UN</text>
<text transform="translate(169.34 234.6) rotate(-90) scale(0.945 1)" font-size="7.196" text-anchor="start" font-family="Liberation Serif, serif" fill="#1a1a1a" stroke="#1a1a1a" stroke-width="0.16">LPS</text>
<text transform="translate(162.65 240.3) rotate(0.05) scale(0.945 1)" font-size="7.196" text-anchor="middle" font-family="Liberation Serif, serif" fill="#1a1a1a" stroke="#1a1a1a" stroke-width="0.16">Δ4</text>
<rect x="183.8" y="213.39" width="4.4" height="7.61" fill="#000"/>
<line x1="195.3" y1="206.16" x2="195.3" y2="210.35" stroke="#444" stroke-width="0.9"/>
<line x1="194.2" y1="206.16" x2="196.4" y2="206.16" stroke="#444" stroke-width="0.9"/>
<g transform="translate(193.1 221)"><rect x="0" y="-10.65" width="4.4" height="10.65" fill="url(#dots)"/><rect x="0" y="-10.65" width="4.4" height="10.65" fill="none" stroke="#444" stroke-width="0.7"/></g>
<line x1="195.3" y1="210.35" x2="195.3" y2="214.54" stroke="#333" stroke-width="1.6" opacity="0.6"/>
<text transform="translate(188.04 230.9) rotate(-90) scale(0.945 1)" font-size="7.196" text-anchor="start" font-family="Liberation Serif, serif" fill="#1a1a1a" stroke="#1a1a1a" stroke-width="0.16">UN</text>
<text transform="translate(197.34 234.6) rotate(-90) scale(0.945 1)" font-size="7.196" text-anchor="start" font-family="Liberation Serif, serif" fill="#1a1a1a" stroke="#1a1a1a" stroke-width="0.16">LPS</text>
<text transform="translate(190.65 240.3) rotate(0.05) scale(0.945 1)" font-size="7.196" text-anchor="middle" font-family="Liberation Serif, serif" fill="#1a1a1a" stroke="#1a1a1a" stroke-width="0.16">Δ5</text>
<rect x="211.6" y="213.39" width="4.4" height="7.61" fill="#000"/>
<line x1="223.3" y1="208.83" x2="223.3" y2="211.49" stroke="#444" stroke-width="0.9"/>
<line x1="222.2" y1="208.83" x2="224.4" y2="208.83" stroke="#444" stroke-width="0.9"/>
<g transform="translate(221.1 221)"><rect x="0" y="-9.51" width="4.4" height="9.51" fill="url(#dots)"/><rect x="0" y="-9.51" width="4.4" height="9.51" fill="none" stroke="#444" stroke-width="0.7"/></g>
<line x1="223.3" y1="211.49" x2="223.3" y2="214.15" stroke="#333" stroke-width="1.6" opacity="0.6"/>
<text transform="translate(215.84 230.9) rotate(-90) scale(0.945 1)" font-size="7.196" text-anchor="start" font-family="Liberation Serif, serif" fill="#1a1a1a" stroke="#1a1a1a" stroke-width="0.16">UN</text>
<text transform="translate(225.34 234.6) rotate(-90) scale(0.945 1)" font-size="7.196" text-anchor="start" font-family="Liberation Serif, serif" fill="#1a1a1a" stroke="#1a1a1a" stroke-width="0.16">LPS</text>
<text transform="translate(218.55 240.3) rotate(0.05) scale(0.945 1)" font-size="7.196" text-anchor="middle" font-family="Liberation Serif, serif" fill="#1a1a1a" stroke="#1a1a1a" stroke-width="0.16">Δ6</text>
<polyline points="299,130 496.6,130 496.6,203.3" fill="none" stroke="#5a5a5a" stroke-width="0.75"/>
<polyline points="299,130 299,203.3 496.6,203.3" fill="none" stroke="#333" stroke-width="0.95"/>
<text transform="translate(296.6 205.5) rotate(0.05) scale(0.945 1)" font-size="7.196" text-anchor="end" font-family="Liberation Serif, serif" fill="#1a1a1a" stroke="#1a1a1a" stroke-width="0.16">0</text>
<line x1="298.4" y1="203.3" x2="300.0" y2="203.3" stroke="#3a3a3a" stroke-width="0.7"/>
<text transform="translate(296.6 190.84) rotate(0.05) scale(0.945 1)" font-size="7.196" text-anchor="end" font-family="Liberation Serif, serif" fill="#1a1a1a" stroke="#1a1a1a" stroke-width="0.16">2</text>
<line x1="298.4" y1="188.64000000000001" x2="300.0" y2="188.64000000000001" stroke="#3a3a3a" stroke-width="0.7"/>
<text transform="translate(296.6 176.18) rotate(0.05) scale(0.945 1)" font-size="7.196" text-anchor="end" font-family="Liberation Serif, serif" fill="#1a1a1a" stroke="#1a1a1a" stroke-width="0.16">4</text>
<line x1="298.4" y1="173.98000000000002" x2="300.0" y2="173.98000000000002" stroke="#3a3a3a" stroke-width="0.7"/>
<text transform="translate(296.6 161.52) rotate(0.05) scale(0.945 1)" font-size="7.196" text-anchor="end" font-family="Liberation Serif, serif" fill="#1a1a1a" stroke="#1a1a1a" stroke-width="0.16">6</text>
<line x1="298.4" y1="159.32" x2="300.0" y2="159.32" stroke="#3a3a3a" stroke-width="0.7"/>
<text transform="translate(296.6 146.86) rotate(0.05) scale(0.945 1)" font-size="7.196" text-anchor="end" font-family="Liberation Serif, serif" fill="#1a1a1a" stroke="#1a1a1a" stroke-width="0.16">8</text>
<line x1="298.4" y1="144.66" x2="300.0" y2="144.66" stroke="#3a3a3a" stroke-width="0.7"/>
<text transform="translate(296.6 132.2) rotate(0.05) scale(0.945 1)" font-size="7.196" text-anchor="end" font-family="Liberation Serif, serif" fill="#1a1a1a" stroke="#1a1a1a" stroke-width="0.16">10</text>
<line x1="298.4" y1="130.0" x2="300.0" y2="130.0" stroke="#3a3a3a" stroke-width="0.7"/>
<line x1="299.0" y1="203.3" x2="299.0" y2="204.5" stroke="#3a3a3a" stroke-width="0.6"/>
<line x1="307.48" y1="203.3" x2="307.48" y2="204.5" stroke="#3a3a3a" stroke-width="0.6"/>
<line x1="315.96" y1="203.3" x2="315.96" y2="204.5" stroke="#3a3a3a" stroke-width="0.6"/>
<line x1="324.44" y1="203.3" x2="324.44" y2="204.5" stroke="#3a3a3a" stroke-width="0.6"/>
<line x1="332.92" y1="203.3" x2="332.92" y2="204.5" stroke="#3a3a3a" stroke-width="0.6"/>
<line x1="341.4" y1="203.3" x2="341.4" y2="204.5" stroke="#3a3a3a" stroke-width="0.6"/>
<line x1="349.88" y1="203.3" x2="349.88" y2="204.5" stroke="#3a3a3a" stroke-width="0.6"/>
<line x1="358.36" y1="203.3" x2="358.36" y2="204.5" stroke="#3a3a3a" stroke-width="0.6"/>
<line x1="366.84" y1="203.3" x2="366.84" y2="204.5" stroke="#3a3a3a" stroke-width="0.6"/>
<line x1="375.32" y1="203.3" x2="375.32" y2="204.5" stroke="#3a3a3a" stroke-width="0.6"/>
<line x1="383.8" y1="203.3" x2="383.8" y2="204.5" stroke="#3a3a3a" stroke-width="0.6"/>
<line x1="392.28" y1="203.3" x2="392.28" y2="204.5" stroke="#3a3a3a" stroke-width="0.6"/>
<line x1="400.76" y1="203.3" x2="400.76" y2="204.5" stroke="#3a3a3a" stroke-width="0.6"/>
<line x1="409.24" y1="203.3" x2="409.24" y2="204.5" stroke="#3a3a3a" stroke-width="0.6"/>
<line x1="417.72" y1="203.3" x2="417.72" y2="204.5" stroke="#3a3a3a" stroke-width="0.6"/>
<line x1="426.2" y1="203.3" x2="426.2" y2="204.5" stroke="#3a3a3a" stroke-width="0.6"/>
<line x1="434.68" y1="203.3" x2="434.68" y2="204.5" stroke="#3a3a3a" stroke-width="0.6"/>
<line x1="443.16" y1="203.3" x2="443.16" y2="204.5" stroke="#3a3a3a" stroke-width="0.6"/>
<line x1="451.64" y1="203.3" x2="451.64" y2="204.5" stroke="#3a3a3a" stroke-width="0.6"/>
<line x1="460.12" y1="203.3" x2="460.12" y2="204.5" stroke="#3a3a3a" stroke-width="0.6"/>
<line x1="468.6" y1="203.3" x2="468.6" y2="204.5" stroke="#3a3a3a" stroke-width="0.6"/>
<line x1="477.08" y1="203.3" x2="477.08" y2="204.5" stroke="#3a3a3a" stroke-width="0.6"/>
<line x1="485.56" y1="203.3" x2="485.56" y2="204.5" stroke="#3a3a3a" stroke-width="0.6"/>
<line x1="494.04" y1="203.3" x2="494.04" y2="204.5" stroke="#3a3a3a" stroke-width="0.6"/>
<text transform="translate(290.2 166.5) rotate(-90) scale(0.945 1)" font-size="7.196" text-anchor="middle" font-family="Liberation Serif, serif" fill="#1a1a1a" stroke="#1a1a1a" stroke-width="0.16">Fold Induction</text>
<rect x="302" y="195.97" width="4.4" height="7.33" fill="#000"/>
<line x1="312.6" y1="142.09" x2="312.6" y2="149.06" stroke="#444" stroke-width="0.9"/>
<line x1="311.6" y1="142.09" x2="313.6" y2="142.09" stroke="#444" stroke-width="0.9"/>
<g transform="translate(310.85 203.3)"><rect x="0" y="-54.24" width="3.5" height="54.24" fill="url(#dots)"/><rect x="0" y="-54.24" width="3.5" height="54.24" fill="none" stroke="#444" stroke-width="0.7"/></g>
<line x1="312.6" y1="149.06" x2="312.6" y2="156.03" stroke="#333" stroke-width="1.6" opacity="0.6"/>
<text transform="translate(306.16 214.6) rotate(-90) scale(0.945 1)" font-size="6.561" text-anchor="start" font-family="Liberation Serif, serif" fill="#1a1a1a" stroke="#1a1a1a" stroke-width="0.16">UN</text>
<text transform="translate(314.76 217.8) rotate(-90) scale(0.945 1)" font-size="6.561" text-anchor="start" font-family="Liberation Serif, serif" fill="#1a1a1a" stroke="#1a1a1a" stroke-width="0.16">LPS</text>
<text transform="translate(307.8 224.2) rotate(0.05) scale(0.945 1)" font-size="7.196" text-anchor="middle" font-family="Liberation Serif, serif" fill="#1a1a1a" stroke="#1a1a1a" stroke-width="0.16">WT</text>
<rect x="327" y="195.97" width="4.4" height="7.33" fill="#000"/>
<line x1="337.2" y1="179.11" x2="337.2" y2="182.41" stroke="#444" stroke-width="0.9"/>
<line x1="336.2" y1="179.11" x2="338.2" y2="179.11" stroke="#444" stroke-width="0.9"/>
<g transform="translate(335.45 203.3)"><rect x="0" y="-20.89" width="3.5" height="20.89" fill="url(#dots)"/><rect x="0" y="-20.89" width="3.5" height="20.89" fill="none" stroke="#444" stroke-width="0.7"/></g>
<line x1="337.2" y1="182.41" x2="337.2" y2="185.71" stroke="#333" stroke-width="1.6" opacity="0.6"/>
<text transform="translate(331.16 214.6) rotate(-90) scale(0.945 1)" font-size="6.561" text-anchor="start" font-family="Liberation Serif, serif" fill="#1a1a1a" stroke="#1a1a1a" stroke-width="0.16">UN</text>
<text transform="translate(339.36 217.8) rotate(-90) scale(0.945 1)" font-size="6.561" text-anchor="start" font-family="Liberation Serif, serif" fill="#1a1a1a" stroke="#1a1a1a" stroke-width="0.16">LPS</text>
<text transform="translate(332.6 224.2) rotate(0.05) scale(0.945 1)" font-size="7.196" text-anchor="middle" font-family="Liberation Serif, serif" fill="#1a1a1a" stroke="#1a1a1a" stroke-width="0.16">mdκB</text>
<rect x="351.8" y="195.97" width="4.4" height="7.33" fill="#000"/>
<line x1="362.2" y1="180.58" x2="362.2" y2="184.61" stroke="#444" stroke-width="0.9"/>
<line x1="361.2" y1="180.58" x2="363.2" y2="180.58" stroke="#444" stroke-width="0.9"/>
<g transform="translate(360.45 203.3)"><rect x="0" y="-18.69" width="3.5" height="18.69" fill="url(#dots)"/><rect x="0" y="-18.69" width="3.5" height="18.69" fill="none" stroke="#444" stroke-width="0.7"/></g>
<line x1="362.2" y1="184.61" x2="362.2" y2="188.64" stroke="#333" stroke-width="1.6" opacity="0.6"/>
<text transform="translate(355.96 214.6) rotate(-90) scale(0.945 1)" font-size="6.561" text-anchor="start" font-family="Liberation Serif, serif" fill="#1a1a1a" stroke="#1a1a1a" stroke-width="0.16">UN</text>
<text transform="translate(364.36 217.8) rotate(-90) scale(0.945 1)" font-size="6.561" text-anchor="start" font-family="Liberation Serif, serif" fill="#1a1a1a" stroke="#1a1a1a" stroke-width="0.16">LPS</text>
<text transform="translate(358.2 224.2) rotate(0.05) scale(0.945 1)" font-size="7.196" text-anchor="middle" font-family="Liberation Serif, serif" fill="#1a1a1a" stroke="#1a1a1a" stroke-width="0.16">mmκB</text>
<rect x="378" y="195.97" width="4.4" height="7.33" fill="#000"/>
<line x1="388.7" y1="177.65" x2="388.7" y2="181.68" stroke="#444" stroke-width="0.9"/>
<line x1="387.7" y1="177.65" x2="389.7" y2="177.65" stroke="#444" stroke-width="0.9"/>
<g transform="translate(386.95 203.3)"><rect x="0" y="-21.62" width="3.5" height="21.62" fill="url(#dots)"/><rect x="0" y="-21.62" width="3.5" height="21.62" fill="none" stroke="#444" stroke-width="0.7"/></g>
<line x1="388.7" y1="181.68" x2="388.7" y2="185.71" stroke="#333" stroke-width="1.6" opacity="0.6"/>
<text transform="translate(382.16 214.6) rotate(-90) scale(0.945 1)" font-size="6.561" text-anchor="start" font-family="Liberation Serif, serif" fill="#1a1a1a" stroke="#1a1a1a" stroke-width="0.16">UN</text>
<text transform="translate(390.86 217.8) rotate(-90) scale(0.945 1)" font-size="6.561" text-anchor="start" font-family="Liberation Serif, serif" fill="#1a1a1a" stroke="#1a1a1a" stroke-width="0.16">LPS</text>
<text transform="translate(383.3 224.2) rotate(0.05) scale(0.945 1)" font-size="7.196" text-anchor="middle" font-family="Liberation Serif, serif" fill="#1a1a1a" stroke="#1a1a1a" stroke-width="0.16">mm2κB</text>
<rect x="404" y="195.97" width="4.4" height="7.33" fill="#000"/>
<line x1="414.7" y1="168.85" x2="414.7" y2="174.35" stroke="#444" stroke-width="0.9"/>
<line x1="413.7" y1="168.85" x2="415.7" y2="168.85" stroke="#444" stroke-width="0.9"/>
<g transform="translate(412.95 203.3)"><rect x="0" y="-28.95" width="3.5" height="28.95" fill="url(#dots)"/><rect x="0" y="-28.95" width="3.5" height="28.95" fill="none" stroke="#444" stroke-width="0.7"/></g>
<line x1="414.7" y1="174.35" x2="414.7" y2="179.85" stroke="#333" stroke-width="1.6" opacity="0.6"/>
<text transform="translate(408.16 214.6) rotate(-90) scale(0.945 1)" font-size="6.561" text-anchor="start" font-family="Liberation Serif, serif" fill="#1a1a1a" stroke="#1a1a1a" stroke-width="0.16">UN</text>
<text transform="translate(416.86 217.8) rotate(-90) scale(0.945 1)" font-size="6.561" text-anchor="start" font-family="Liberation Serif, serif" fill="#1a1a1a" stroke="#1a1a1a" stroke-width="0.16">LPS</text>
<text transform="translate(408.6 224.2) rotate(0.05) scale(0.945 1)" font-size="7.196" text-anchor="middle" font-family="Liberation Serif, serif" fill="#1a1a1a" stroke="#1a1a1a" stroke-width="0.16">mpκB</text>
<rect x="430" y="195.97" width="4.4" height="7.33" fill="#000"/>
<line x1="440.6" y1="169.58" x2="440.6" y2="174.35" stroke="#444" stroke-width="0.9"/>
<line x1="439.6" y1="169.58" x2="441.6" y2="169.58" stroke="#444" stroke-width="0.9"/>
<g transform="translate(438.85 203.3)"><rect x="0" y="-28.95" width="3.5" height="28.95" fill="url(#dots)"/><rect x="0" y="-28.95" width="3.5" height="28.95" fill="none" stroke="#444" stroke-width="0.7"/></g>
<line x1="440.6" y1="174.35" x2="440.6" y2="179.12" stroke="#333" stroke-width="1.6" opacity="0.6"/>
<text transform="translate(434.16 214.6) rotate(-90) scale(0.945 1)" font-size="6.561" text-anchor="start" font-family="Liberation Serif, serif" fill="#1a1a1a" stroke="#1a1a1a" stroke-width="0.16">UN</text>
<text transform="translate(442.76 217.8) rotate(-90) scale(0.945 1)" font-size="6.561" text-anchor="start" font-family="Liberation Serif, serif" fill="#1a1a1a" stroke="#1a1a1a" stroke-width="0.16">LPS</text>
<text transform="translate(435.2 224.2) rotate(0.05) scale(0.945 1)" font-size="7.196" text-anchor="middle" font-family="Liberation Serif, serif" fill="#1a1a1a" stroke="#1a1a1a" stroke-width="0.16">mdGAS</text>
<rect x="455" y="195.97" width="4.4" height="7.33" fill="#000"/>
<line x1="465.7" y1="168.85" x2="465.7" y2="172.51" stroke="#444" stroke-width="0.9"/>
<line x1="464.7" y1="168.85" x2="466.7" y2="168.85" stroke="#444" stroke-width="0.9"/>
<g transform="translate(463.95 203.3)"><rect x="0" y="-30.79" width="3.5" height="30.79" fill="url(#dots)"/><rect x="0" y="-30.79" width="3.5" height="30.79" fill="none" stroke="#444" stroke-width="0.7"/></g>
<line x1="465.7" y1="172.51" x2="465.7" y2="176.17" stroke="#333" stroke-width="1.6" opacity="0.6"/>
<text transform="translate(459.16 214.6) rotate(-90) scale(0.945 1)" font-size="6.561" text-anchor="start" font-family="Liberation Serif, serif" fill="#1a1a1a" stroke="#1a1a1a" stroke-width="0.16">UN</text>
<text transform="translate(467.86 217.8) rotate(-90) scale(0.945 1)" font-size="6.561" text-anchor="start" font-family="Liberation Serif, serif" fill="#1a1a1a" stroke="#1a1a1a" stroke-width="0.16">LPS</text>
<text transform="translate(460.2 224.2) rotate(0.05) scale(0.945 1)" font-size="7.196" text-anchor="middle" font-family="Liberation Serif, serif" fill="#1a1a1a" stroke="#1a1a1a" stroke-width="0.16">mmGAS</text>
<rect x="480" y="195.97" width="4.4" height="7.33" fill="#000"/>
<line x1="490.9" y1="135.5" x2="490.9" y2="146.13" stroke="#444" stroke-width="0.9"/>
<line x1="489.9" y1="135.5" x2="491.9" y2="135.5" stroke="#444" stroke-width="0.9"/>
<g transform="translate(489.15 203.3)"><rect x="0" y="-57.17" width="3.5" height="57.17" fill="url(#dots)"/><rect x="0" y="-57.17" width="3.5" height="57.17" fill="none" stroke="#444" stroke-width="0.7"/></g>
<line x1="490.9" y1="146.13" x2="490.9" y2="156.76" stroke="#333" stroke-width="1.6" opacity="0.6"/>
<text transform="translate(484.16 214.6) rotate(-90) scale(0.945 1)" font-size="6.561" text-anchor="start" font-family="Liberation Serif, serif" fill="#1a1a1a" stroke="#1a1a1a" stroke-width="0.16">UN</text>
<text transform="translate(493.06 217.8) rotate(-90) scale(0.945 1)" font-size="6.561" text-anchor="start" font-family="Liberation Serif, serif" fill="#1a1a1a" stroke="#1a1a1a" stroke-width="0.16">LPS</text>
<text transform="translate(487 224.2) rotate(0.05) scale(0.945 1)" font-size="7.196" text-anchor="middle" font-family="Liberation Serif, serif" fill="#1a1a1a" stroke="#1a1a1a" stroke-width="0.16">mpGAS</text>
<polyline points="315,241.2 488.6,241.2 488.6,309.4" fill="none" stroke="#5a5a5a" stroke-width="0.75"/>
<polyline points="315,241.2 315,309.4 488.6,309.4" fill="none" stroke="#333" stroke-width="0.95"/>
<text transform="translate(312.4 311.6) rotate(0.05) scale(0.945 1)" font-size="7.196" text-anchor="end" font-family="Liberation Serif, serif" fill="#1a1a1a" stroke="#1a1a1a" stroke-width="0.16">0</text>
<line x1="313.5" y1="309.4" x2="315" y2="309.4" stroke="#3a3a3a" stroke-width="0.7"/>
<text transform="translate(312.4 300.23) rotate(0.05) scale(0.945 1)" font-size="7.196" text-anchor="end" font-family="Liberation Serif, serif" fill="#1a1a1a" stroke="#1a1a1a" stroke-width="0.16">20</text>
<line x1="313.5" y1="298.0333333333333" x2="315" y2="298.0333333333333" stroke="#3a3a3a" stroke-width="0.7"/>
<text transform="translate(312.4 288.87) rotate(0.05) scale(0.945 1)" font-size="7.196" text-anchor="end" font-family="Liberation Serif, serif" fill="#1a1a1a" stroke="#1a1a1a" stroke-width="0.16">40</text>
<line x1="313.5" y1="286.66666666666663" x2="315" y2="286.66666666666663" stroke="#3a3a3a" stroke-width="0.7"/>
<text transform="translate(312.4 277.5) rotate(0.05) scale(0.945 1)" font-size="7.196" text-anchor="end" font-family="Liberation Serif, serif" fill="#1a1a1a" stroke="#1a1a1a" stroke-width="0.16">60</text>
<line x1="313.5" y1="275.29999999999995" x2="315" y2="275.29999999999995" stroke="#3a3a3a" stroke-width="0.7"/>
<text transform="translate(312.4 266.13) rotate(0.05) scale(0.945 1)" font-size="7.196" text-anchor="end" font-family="Liberation Serif, serif" fill="#1a1a1a" stroke="#1a1a1a" stroke-width="0.16">80</text>
<line x1="313.5" y1="263.93333333333334" x2="315" y2="263.93333333333334" stroke="#3a3a3a" stroke-width="0.7"/>
<text transform="translate(312.4 254.77) rotate(0.05) scale(0.945 1)" font-size="7.196" text-anchor="end" font-family="Liberation Serif, serif" fill="#1a1a1a" stroke="#1a1a1a" stroke-width="0.16">100</text>
<line x1="313.5" y1="252.56666666666666" x2="315" y2="252.56666666666666" stroke="#3a3a3a" stroke-width="0.7"/>
<text transform="translate(312.4 243.4) rotate(0.05) scale(0.945 1)" font-size="7.196" text-anchor="end" font-family="Liberation Serif, serif" fill="#1a1a1a" stroke="#1a1a1a" stroke-width="0.16">120</text>
<line x1="313.5" y1="241.2" x2="315" y2="241.2" stroke="#3a3a3a" stroke-width="0.7"/>
<text transform="translate(291.4 275.3) rotate(-90) scale(0.945 1)" font-size="7.196" text-anchor="middle" font-family="Liberation Serif, serif" fill="#1a1a1a" stroke="#1a1a1a" stroke-width="0.16">Percentage of</text>
<text transform="translate(299.9 275.0) rotate(-90) scale(0.945 1)" font-size="7.196" text-anchor="middle" font-family="Liberation Serif, serif" fill="#1a1a1a" stroke="#1a1a1a" stroke-width="0.16">Promoter Activity</text>
<rect x="323.6" y="252.91" width="12.0" height="56.49" fill="#000"/>
<text transform="translate(329.6 319.2) rotate(0.05) scale(0.945 1)" font-size="7.196" text-anchor="middle" font-family="Liberation Serif, serif" fill="#1a1a1a" stroke="#1a1a1a" stroke-width="0.16">pcDNA3</text>
<line x1="358.75" y1="251.15" x2="358.75" y2="253.99" stroke="#111" stroke-width="0.8"/>
<line x1="357.15" y1="251.15" x2="360.35" y2="251.15" stroke="#111" stroke-width="0.8"/>
<rect x="353" y="253.99" width="11.5" height="55.41" fill="#000"/>
<text transform="translate(357.7 318.4) rotate(0.05) scale(0.945 1)" font-size="7.196" text-anchor="middle" font-family="Liberation Serif, serif" fill="#1a1a1a" stroke="#1a1a1a" stroke-width="0.16">WT</text>
<text transform="translate(357.7 327.2) rotate(0.05) scale(0.945 1)" font-size="7.196" text-anchor="middle" font-family="Liberation Serif, serif" fill="#1a1a1a" stroke="#1a1a1a" stroke-width="0.16">IKK-α</text>
<line x1="343.93" y1="309.4" x2="343.93" y2="310.79999999999995" stroke="#3a3a3a" stroke-width="0.7"/>
<line x1="387.5" y1="274.16" x2="387.5" y2="275.02" stroke="#111" stroke-width="0.8"/>
<line x1="385.9" y1="274.16" x2="389.1" y2="274.16" stroke="#111" stroke-width="0.8"/>
<rect x="381.6" y="275.02" width="11.8" height="34.38" fill="#000"/>
<text transform="translate(386.8 318.4) rotate(0.05) scale(0.945 1)" font-size="7.196" text-anchor="middle" font-family="Liberation Serif, serif" fill="#1a1a1a" stroke="#1a1a1a" stroke-width="0.16">DN</text>
<text transform="translate(386.8 327.2) rotate(0.05) scale(0.945 1)" font-size="7.196" text-anchor="middle" font-family="Liberation Serif, serif" fill="#1a1a1a" stroke="#1a1a1a" stroke-width="0.16">IKK-α</text>
<line x1="372.87" y1="309.4" x2="372.87" y2="310.79999999999995" stroke="#3a3a3a" stroke-width="0.7"/>
<line x1="416.2" y1="255.12" x2="416.2" y2="255.98" stroke="#111" stroke-width="0.8"/>
<line x1="414.59999999999997" y1="255.12" x2="417.8" y2="255.12" stroke="#111" stroke-width="0.8"/>
<rect x="410.4" y="255.98" width="11.6" height="53.42" fill="#000"/>
<text transform="translate(416.4 318.4) rotate(0.05) scale(0.945 1)" font-size="7.196" text-anchor="middle" font-family="Liberation Serif, serif" fill="#1a1a1a" stroke="#1a1a1a" stroke-width="0.16">WT</text>
<text transform="translate(416.4 327.2) rotate(0.05) scale(0.945 1)" font-size="7.196" text-anchor="middle" font-family="Liberation Serif, serif" fill="#1a1a1a" stroke="#1a1a1a" stroke-width="0.16">IKK-β</text>
<line x1="401.8" y1="309.4" x2="401.8" y2="310.79999999999995" stroke="#3a3a3a" stroke-width="0.7"/>
<line x1="445.4" y1="283.82" x2="445.4" y2="287.52" stroke="#111" stroke-width="0.8"/>
<line x1="443.79999999999995" y1="283.82" x2="447.0" y2="283.82" stroke="#111" stroke-width="0.8"/>
<rect x="439.4" y="287.52" width="12.0" height="21.88" fill="#000"/>
<text transform="translate(445.6 318.4) rotate(0.05) scale(0.945 1)" font-size="7.196" text-anchor="middle" font-family="Liberation Serif, serif" fill="#1a1a1a" stroke="#1a1a1a" stroke-width="0.16">DN</text>
<text transform="translate(445.6 327.2) rotate(0.05) scale(0.945 1)" font-size="7.196" text-anchor="middle" font-family="Liberation Serif, serif" fill="#1a1a1a" stroke="#1a1a1a" stroke-width="0.16">IKK-β</text>
<line x1="430.73" y1="309.4" x2="430.73" y2="310.79999999999995" stroke="#3a3a3a" stroke-width="0.7"/>
<line x1="474.2" y1="299.17" x2="474.2" y2="301.44" stroke="#111" stroke-width="0.8"/>
<line x1="472.59999999999997" y1="299.17" x2="475.8" y2="299.17" stroke="#111" stroke-width="0.8"/>
<rect x="468.4" y="301.44" width="11.6" height="7.96" fill="#000"/>
<text transform="translate(474.5 318.4) rotate(0.05) scale(0.945 1)" font-size="7.196" text-anchor="middle" font-family="Liberation Serif, serif" fill="#1a1a1a" stroke="#1a1a1a" stroke-width="0.16">DN</text>
<text transform="translate(474.5 327.2) rotate(0.05) scale(0.945 1)" font-size="7.196" text-anchor="middle" font-family="Liberation Serif, serif" fill="#1a1a1a" stroke="#1a1a1a" stroke-width="0.16">IKK-α /β</text>
<line x1="459.67" y1="309.4" x2="459.67" y2="310.79999999999995" stroke="#3a3a3a" stroke-width="0.7"/>
<line x1="314.4" y1="330.6" x2="487.8" y2="330.6" stroke="#222" stroke-width="0.8"/>
<text transform="translate(403.5 338.8) rotate(0.05) scale(0.945 1)" font-size="7.196" text-anchor="middle" font-family="Liberation Serif, serif" fill="#1a1a1a" stroke="#1a1a1a" stroke-width="0.16">LPS</text>
</svg>
</body></html>
